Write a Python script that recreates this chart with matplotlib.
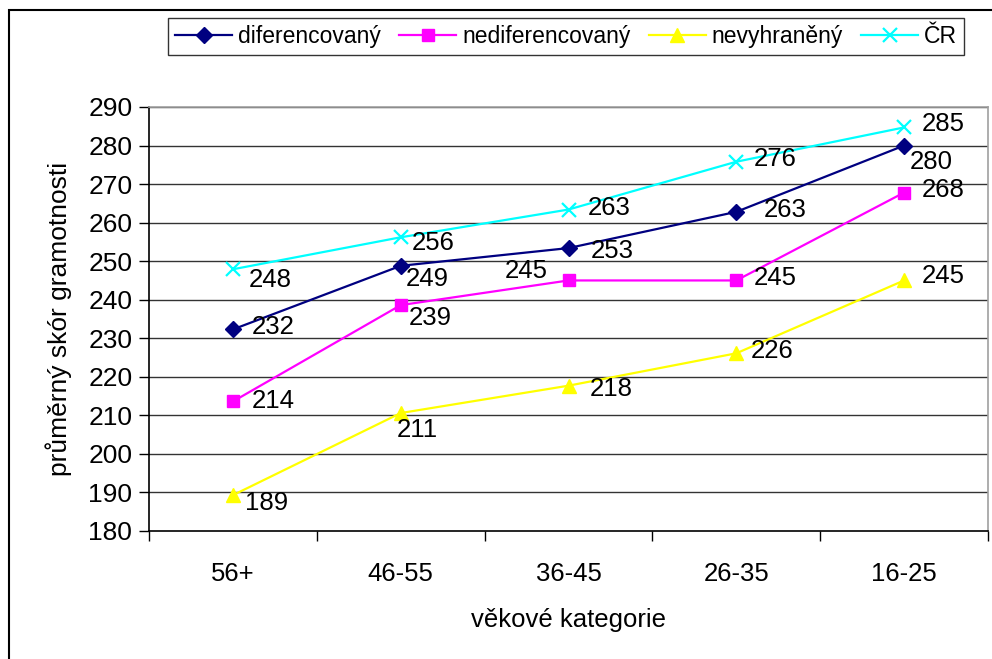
import matplotlib.pyplot as plt
from matplotlib.patches import Rectangle

plt.rcParams['font.family'] = ['Liberation Sans', 'DejaVu Sans']

# age categories (x axis)
categories = ['56+', '46-55', '36-45', '26-35', '16-25']

# mean literacy scores
diferencovany = [232.3, 248.8, 253.4, 262.8, 280.0]
nediferencovany = [213.6, 238.6, 245.0, 245.0, 267.8]
nevyhraneny = [189.3, 210.6, 217.7, 226.1, 245.0]
cr = [247.9, 256.2, 263.4, 275.8, 284.7]

series_names = ['diferencovaný', 'nediferencovaný', 'nevyhraněný', 'ČR']
y_ticks = list(range(180, 291, 10))

# style per series
colors = ['#000080', '#FF00FF', '#FFFF00', '#00FFFF']
markers = ['D', 's', '^', 'x']
msizes = [8, 8.5, 9.5, 9.5]

# label offsets (pixels) for each series / category
offsets = [
    [(19, 2), (5, -13), (22, -3), (27, 2), (6, -16)],
    [(19, 0), (8, -13), (-21, 9), (17, 2), (18, 3)],
    [(12, -8), (-4, -17), (21, -3), (14, 2), (18, 4)],
    [(16, -11), (11, -6), (19, 2), (17, 3), (18, 3)],
]

W, H = 992, 659
fig = plt.figure(figsize=(W / 100, H / 100), dpi=100)
ax = fig.add_axes([149 / W, 1 - 531 / H, (988 - 149) / W, (531 - 107) / H])

# outer chart border (cropped at right/bottom)
fig.patches.append(Rectangle((9 / W, -0.1), 1.2, 1 - 10 / H + 0.1,
                             transform=fig.transFigure, fill=False,
                             edgecolor='black', linewidth=1.5))

x = list(range(len(categories)))
all_series = [diferencovany, nediferencovany, nevyhraneny, cr]
for vals, name, c, m, ms, offs in zip(all_series, series_names, colors,
                                      markers, msizes, offsets):
    ax.plot(x, vals, color=c, marker=m, markersize=ms, linewidth=1.6,
            markeredgewidth=1.6 if m == 'x' else 1, markeredgecolor=c,
            label=name, zorder=3)
    for xi, v, (dx, dy) in zip(x, vals, offs):
        ha = 'right' if dx < 0 and dy > 5 else 'left'
        ax.annotate(f"{round(v)}", xy=(xi, v), xytext=(dx, dy),
                    textcoords='offset pixels', ha=ha, va='center',
                    fontsize=18.5, color='black', zorder=4)

ax.set_xlim(-0.5, len(categories) - 0.5)
ax.set_ylim(180, 290)
ax.set_yticks(y_ticks)
ax.set_xticks(x)
ax.set_xticklabels(categories, fontsize=18.5)
ax.set_xticks([i - 0.5 for i in range(len(categories) + 1)], minor=True)
ax.tick_params(axis='x', which='major', length=0, pad=22)
ax.tick_params(axis='x', which='minor', length=7, width=1, direction='out')
ax.tick_params(axis='y', length=7, width=1, direction='out', labelsize=19, pad=5)

for yv in y_ticks[1:]:
    ax.axhline(yv, color='#333333', linewidth=1, zorder=1)

ax.spines['left'].set_color('black')
ax.spines['bottom'].set_color('black')
ax.spines['top'].set_color('#A0A0A0')
ax.spines['right'].set_color('#A0A0A0')
for s in ax.spines.values():
    s.set_linewidth(1.2)

ax.set_ylabel('průměrný skór gramotnosti', fontsize=19, labelpad=12)
ax.set_xlabel('věkové kategorie', fontsize=18.5, labelpad=16)

leg = fig.legend(loc='center', ncol=4, mode='expand',
                 bbox_to_anchor=(168 / W, 1 - 59 / H, (964 - 168) / W, 45 / H),
                 fontsize=16.5, frameon=True, fancybox=False,
                 edgecolor='black', handlelength=2.5, handletextpad=0.25,
                 columnspacing=0.5, borderaxespad=0, borderpad=0.3)
leg.get_frame().set_linewidth(1)

fig.savefig('out.png', dpi=100)
